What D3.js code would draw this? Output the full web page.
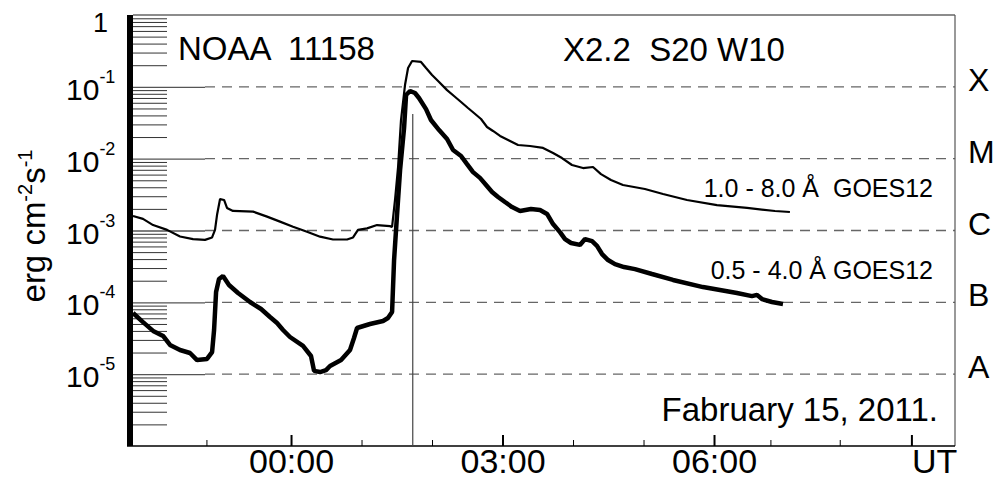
<!DOCTYPE html>
<html>
<head>
<meta charset="utf-8">
<script src="https://cdn.jsdelivr.net/npm/d3@7"></script>
<style>
  body { margin: 0; background: #fff; }
  text { font-family: "Liberation Sans", Arial, sans-serif; fill: #000; }
</style>
</head>
<body>
<div id="chart-area"></div>
<script>
// time in minutes from 00:00 UT, flux in erg cm-2 s-1
const longTime = [-134.5, -126, -117.4, -105.5, -94.5, -83.4, -73.2, -67.2, -64.7, -63, -60.4, -57, -54.5, -49.4,
  -32.3, -20.4, -9.4, 1.7, 13.6, 24.7, 35.7, 47.7, 52.8, 57, 64.7, 73.2, 84.2, 86, 88.5, 91.1, 93.6, 97, 99.6,
  103, 110.6, 114.9, 120, 126, 132.8, 138.7, 144.7, 150.6, 155.7, 161.7, 166.8, 171.9, 177.9, 184.7, 193.2,
  203.4, 214.5, 223, 230.6, 239.1, 248.5, 257, 263.8, 272.3, 282.5, 301.2, 316.6, 337, 362.5, 388.1, 411.9, 424.6]
const longFlux = [1.59e-3, 1.45e-3, 1.19e-3, 1.02e-3, 8.25e-4, 7.6e-4, 7.4e-4, 8.0e-4, 1.02e-3, 1.64e-3, 2.74e-3,
  2.66e-3, 2.06e-3, 1.87e-3, 1.83e-3, 1.56e-3, 1.33e-3, 1.13e-3, 9.6e-4, 8.2e-4, 7.5e-4, 7.5e-4, 8.0e-4, 1.02e-3,
  1.07e-3, 1.19e-3, 1.15e-3, 1.12e-3, 2.66e-3, 7.65e-3, 3.45e-2, 1.06e-1, 1.83e-1, 2.29e-1, 2.22e-1, 1.83e-1,
  1.46e-1, 1.17e-1, 9.0e-2, 7.45e-2, 6.15e-2, 5.07e-2, 4.32e-2, 3.57e-2, 2.76e-2, 2.43e-2, 2.07e-2, 1.82e-2,
  1.55e-2, 1.50e-2, 1.41e-2, 1.20e-2, 1.02e-2, 8.16e-3, 7.4e-3, 7.65e-3, 6.1e-3, 5.05e-3, 4.3e-3, 3.78e-3,
  3.22e-3, 2.66e-3, 2.26e-3, 2.06e-3, 1.87e-3, 1.81e-3]

const shortTime = [-134.5, -126, -117.4, -108.9, -103, -94.5, -86, -80, -71.5, -67.2, -65.5, -63.8, -61.3, -57.9,
  -52.8, -45.1, -34.9, -25.5, -17.9, -11.9, -6.8, -0.9, 10.2, 17, 19.6, 24.7, 29.8, 33.2, 42.6, 50.2, 53.6, 56.2,
  67.2, 78.3, 82.5, 86, 87.7, 90.2, 92.8, 96.2, 97.9, 101.3, 105.5, 108.9, 114.9, 119.1, 126, 132.8, 137.9,
  144.7, 149.8, 154.9, 160.8, 166, 171.1, 176.2, 182.1, 188.1, 194.9, 204.2, 211.9, 217.9, 223, 228.9, 233.2,
  238.3, 245.9, 250.2, 256.2, 260.4, 264.7, 269.8, 275.7, 283.4, 292.7, 307.2, 325.1, 350.6, 379.5, 392.3,
  396.6, 400.8, 409.3, 418.7]
const shortFlux = [7.1e-5, 5.3e-5, 4.0e-5, 3.4e-5, 2.55e-5, 2.17e-5, 1.97e-5, 1.57e-5, 1.63e-5, 2.03e-5, 4.12e-5,
  1.39e-4, 2.11e-4, 2.33e-4, 1.74e-4, 1.35e-4, 1.01e-4, 8.07e-5, 6.25e-5, 5.15e-5, 4.12e-5, 3.29e-5, 2.47e-5,
  1.79e-5, 1.11e-5, 1.07e-5, 1.14e-5, 1.30e-5, 1.57e-5, 2.17e-5, 3.19e-5, 4.39e-5, 4.99e-5, 5.5e-5, 6.05e-5,
  7.33e-5, 3.88e-4, 1.64e-3, 6.95e-3, 2.67e-2, 7.7e-2, 8.75e-2, 8.2e-2, 7.0e-2, 4.9e-2, 3.45e-2, 2.5e-2,
  1.88e-2, 1.32e-2, 1.09e-2, 8.4e-3, 6.5e-3, 5.4e-3, 4.3e-3, 3.43e-3, 2.93e-3, 2.49e-3, 2.12e-3, 1.87e-3,
  1.99e-3, 1.93e-3, 1.70e-3, 1.23e-3, 9.5e-4, 7.6e-4, 6.7e-4, 6.3e-4, 7.6e-4, 7.1e-4, 6.1e-4, 4.7e-4, 3.88e-4,
  3.4e-4, 3.1e-4, 2.9e-4, 2.48e-4, 2.05e-4, 1.63e-4, 1.35e-4, 1.22e-4, 1.27e-4, 1.11e-4, 1.01e-4, 9.5e-5]

const classNames = ["X", "M", "C", "B", "A"]
const classFlux = [1e-1, 1e-2, 1e-3, 1e-4, 1e-5]
const decadeExp = ["-1", "-2", "-3", "-4", "-5"]

const majorTimes = [0, 180, 360, 528]
const majorLabels = ["00:00", "03:00", "06:00", "UT"]
const minorTimes = [-72, 60, 120, 240, 300, 408, 467]

const peakTime = 103.6
const peakTop = 4.18e-2

const MARGIN = { LEFT: 133, RIGHT: 44, TOP: 15, BOTTOM: 35 }
const WIDTH = 999 - MARGIN.LEFT - MARGIN.RIGHT
const HEIGHT = 481 - MARGIN.TOP - MARGIN.BOTTOM

const svg = d3.select('#chart-area').append("svg")
    .attr("width", WIDTH + MARGIN.LEFT + MARGIN.RIGHT)
    .attr("height", HEIGHT + MARGIN.TOP + MARGIN.BOTTOM)

const g = svg.append("g")
    .attr("transform", `translate(${MARGIN.LEFT}, ${MARGIN.TOP})`)

const x = d3.scaleLinear()
    .domain([-134.5, 565.1])
    .range([0, WIDTH])

const y = d3.scaleLog()
    .domain([1e-6, 1])
    .range([HEIGHT, 0])

// minor ticks 2..9 in each decade
const minorY = []
for (let n = -6; n < 0; n++) {
    for (let k = 2; k <= 9; k++) minorY.push(k * Math.pow(10, n))
}

g.append("g")
    .attr("class", "y minor")
    .call(d3.axisLeft(y).tickValues(minorY).tickSize(-34).tickFormat(""))
    .call(a => a.select(".domain").remove())
    .selectAll("line").attr("stroke", "#333").attr("stroke-width", 1)

g.append("g")
    .attr("class", "y major")
    .call(d3.axisLeft(y).tickValues(classFlux).tickSize(-72).tickFormat(""))
    .call(a => a.select(".domain").remove())
    .selectAll("line").attr("stroke", "#555").attr("stroke-width", 1.4)

// dashed class levels
g.selectAll(".grid")
    .data(classFlux)
    .enter().append("line")
    .attr("class", "grid")
    .attr("x1", 72).attr("x2", WIDTH)
    .attr("y1", d => y(d)).attr("y2", d => y(d))
    .attr("stroke", "#666")
    .attr("stroke-width", 1.4)
    .attr("stroke-dasharray", "10,7")

// frame
g.append("line").attr("x1", 0).attr("x2", WIDTH).attr("y1", 0).attr("y2", 0)
    .attr("stroke", "#666").attr("stroke-width", 1.5)
g.append("line").attr("x1", WIDTH).attr("x2", WIDTH).attr("y1", 0).attr("y2", HEIGHT)
    .attr("stroke", "#555").attr("stroke-width", 1.2)

// x axis
const xMinor = g.append("g")
    .attr("class", "x minor")
    .attr("transform", `translate(0, ${HEIGHT})`)
    .call(d3.axisBottom(x).tickValues(minorTimes).tickSize(-6).tickSizeOuter(0).tickFormat(""))
xMinor.select(".domain").remove()
xMinor.selectAll("line").attr("stroke", "#000").attr("stroke-width", 1)

const xMajor = g.append("g")
    .attr("class", "x axis")
    .attr("transform", `translate(0, ${HEIGHT})`)
    .call(d3.axisBottom(x).tickValues(majorTimes).tickSize(-11).tickSizeOuter(0)
        .tickFormat((d, i) => majorLabels[i]))
xMajor.select(".domain").remove()
xMajor.selectAll("line").attr("stroke", "#000").attr("stroke-width", 2)
xMajor.selectAll("text")
    .attr("y", 27)
    .attr("dy", 0)
    .attr("font-size", "34px")
    .attr("fill", "#000")
    .style("font-family", '"Liberation Sans", Arial, sans-serif')
    .filter((d, i) => i === majorLabels.length - 1)
    .attr("text-anchor", "start")
    .attr("x", 0)

g.append("line").attr("x1", -6).attr("x2", WIDTH).attr("y1", HEIGHT).attr("y2", HEIGHT)
    .attr("stroke", "#000").attr("stroke-width", 1.6)

// thick left axis bar
g.append("rect").attr("x", -6).attr("y", 0).attr("width", 6).attr("height", HEIGHT).attr("fill", "#000")

// flare peak marker
g.append("line")
    .attr("x1", x(peakTime)).attr("x2", x(peakTime))
    .attr("y1", y(peakTop)).attr("y2", HEIGHT)
    .attr("stroke", "#444").attr("stroke-width", 1.2)

// curves
const line = d3.line().x(d => x(d.t)).y(d => y(d.f))
const longData = longTime.map((t, i) => ({ t: t, f: longFlux[i] }))
const shortData = shortTime.map((t, i) => ({ t: t, f: shortFlux[i] }))

g.append("path").datum(shortData)
    .attr("d", line)
    .attr("fill", "none").attr("stroke", "#000")
    .attr("stroke-width", 4.5).attr("stroke-linejoin", "bevel")

g.append("path").datum(longData)
    .attr("d", line)
    .attr("fill", "none").attr("stroke", "#000")
    .attr("stroke-width", 2.2).attr("stroke-linejoin", "bevel")

// y tick labels
g.append("text").attr("x", -40).attr("y", y(1) + 17).attr("font-size", "27px").text("1")
const yl = g.selectAll(".ylab")
    .data(classFlux)
    .enter().append("text")
    .attr("class", "ylab")
    .attr("x", -67)
    .attr("y", d => y(d) + 13)
    .attr("font-size", "30px")
yl.append("tspan").text("10")
yl.append("tspan").attr("dy", -17).attr("font-size", "18px").text((d, i) => decadeExp[i])

// class labels
g.selectAll(".cls")
    .data(classFlux)
    .enter().append("text")
    .attr("class", "cls")
    .attr("x", WIDTH + 13)
    .attr("y", d => y(d) + 4)
    .attr("font-size", "32px")
    .text((d, i) => classNames[i])

// y label
const ylab = svg.append("text")
    .attr("transform", "translate(45, 226) rotate(-90)")
    .attr("text-anchor", "middle")
    .attr("font-size", "33px")
ylab.append("tspan").text("erg cm")
ylab.append("tspan").attr("dy", -13).attr("font-size", "20px").text("-2")
ylab.append("tspan").attr("dy", 13).text("s")
ylab.append("tspan").attr("dy", -13).attr("font-size", "20px").text("-1")

// annotations
svg.append("text").attr("x", 178).attr("y", 60).attr("font-size", "33px")
    .style("white-space", "pre").text("NOAA  11158")
svg.append("text").attr("x", 563).attr("y", 61).attr("font-size", "33px")
    .style("white-space", "pre").text("X2.2  S20 W10")
svg.append("text").attr("x", 933).attr("y", 197).attr("font-size", "25px")
    .attr("text-anchor", "end").style("white-space", "pre").text("1.0 - 8.0 Å  GOES12")
svg.append("text").attr("x", 933).attr("y", 279).attr("font-size", "25px")
    .attr("text-anchor", "end").text("0.5 - 4.0 Å GOES12")
svg.append("text").attr("x", 938).attr("y", 421).attr("font-size", "33px")
    .attr("text-anchor", "end").text("Fabruary 15, 2011.")
</script>
</body>
</html>
